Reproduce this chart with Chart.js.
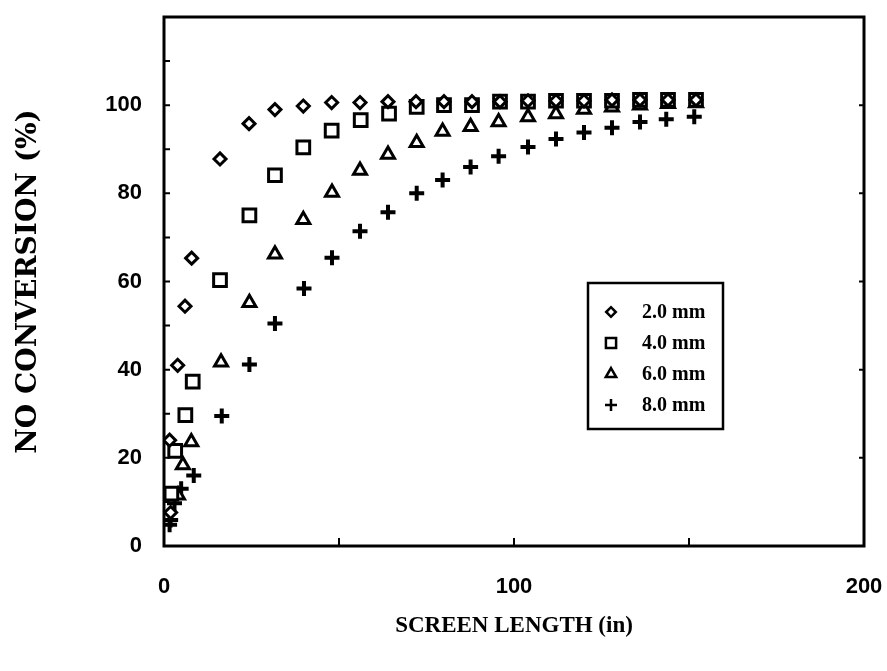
<!DOCTYPE html>
<html>
<head>
<meta charset="utf-8">
<script src="https://cdn.jsdelivr.net/npm/chart.js@4.4.1/dist/chart.umd.min.js"></script>
<style>
  html, body { margin: 0; padding: 0; background: #fff; }
  #wrap { width: 887px; height: 671px; }
</style>
</head>
<body>
<div id="wrap"><canvas id="myChart" width="887" height="671"></canvas></div>
<script>
// values (x = screen length in inches, y = NO conversion %)
var seriesNames = ['2.0 mm', '4.0 mm', '6.0 mm', '8.0 mm'];

var x2mm = [1.9, 1.6, 3.9, 6, 7.9, 16, 24.3, 31.7, 39.8, 47.9, 56, 64, 72, 80, 88, 96, 104, 112, 120, 128, 136, 144, 152];
var y2mm = [7.6, 24, 41, 54.4, 65.3, 87.8, 95.8, 99, 99.8, 100.6, 100.6, 100.8, 100.8, 100.8, 100.8, 100.8, 101, 101, 101, 101.2, 101.2, 101.2, 101.2];

var x4mm = [2.1, 3.2, 6.1, 8.2, 16, 24.4, 31.7, 39.8, 47.9, 56.2, 64.3, 72.2, 80, 88, 96, 104, 112, 120, 128, 136, 144, 152];
var y4mm = [11.9, 21.6, 29.7, 37.3, 60.3, 75, 84.1, 90.4, 94.2, 96.6, 98.1, 99.6, 100, 100, 100.8, 100.8, 101, 101, 101, 101.2, 101.2, 101.2];

var x6mm = [4, 5.4, 7.8, 16.3, 24.4, 31.7, 39.8, 48, 56, 64, 72.2, 79.6, 87.6, 95.6, 104, 112, 120, 128, 136, 144, 152];
var y6mm = [11.5, 18.4, 23.6, 41.7, 55.2, 66.2, 74, 80.2, 85.2, 88.8, 91.5, 94, 95.1, 96.2, 97.3, 98, 99, 99.5, 100, 100.3, 100.5];

var x8mm = [1.6, 1.9, 3, 4.9, 8.5, 16.5, 24.4, 31.7, 40, 48, 56, 64, 72.2, 79.6, 87.6, 95.6, 104, 112, 120, 128, 136, 143.5, 151.5];
var y8mm = [4.8, 5.9, 9.7, 13, 16, 29.5, 41.2, 50.5, 58.4, 65.4, 71.4, 75.7, 80, 83, 86, 88.4, 90.5, 92.3, 93.8, 94.9, 96.2, 96.8, 97.4];

var xTicks = [0, 100, 200];
var yTicks = [0, 20, 40, 60, 80, 100];

function toPoints(xs, ys) {
    return xs.map(function (x, i) { return { x: x, y: ys[i] }; });
}

var markerStyles = [
    { pointStyle: 'rectRot', radius: 6, borderWidth: 3 },
    { pointStyle: 'rect', radius: 9, borderWidth: 3 },
    { pointStyle: 'triangle', radius: 7.5, borderWidth: 3 },
    { pointStyle: 'cross', radius: 7.5, borderWidth: 4 }
];
var allX = [x2mm, x4mm, x6mm, x8mm];
var allY = [y2mm, y4mm, y6mm, y8mm];

var datasets = seriesNames.map(function (name, i) {
    return {
        label: name,
        data: toPoints(allX[i], allY[i]),
        pointStyle: markerStyles[i].pointStyle,
        pointRadius: markerStyles[i].radius,
        pointHoverRadius: markerStyles[i].radius,
        pointBorderWidth: markerStyles[i].borderWidth,
        pointBorderColor: '#000',
        pointBackgroundColor: '#fff',
        showLine: false
    };
});

// box around the plot, inward tick marks and the legend box
var framePlugin = {
    id: 'frame',
    afterDatasetsDraw: function (chart) {
        var ctx = chart.ctx;
        var a = chart.chartArea;
        var xs = chart.scales.x, ys = chart.scales.y;
        ctx.save();
        ctx.strokeStyle = '#000';
        ctx.lineWidth = 3;
        ctx.strokeRect(a.left, a.top, a.right - a.left, a.bottom - a.top);

        ctx.lineWidth = 2;
        ctx.beginPath();
        for (var v = 10; v < 120; v += 10) {
            var py = ys.getPixelForValue(v);
            ctx.moveTo(a.left, py); ctx.lineTo(a.left + 6, py);
            if (v % 20 === 0) { ctx.moveTo(a.right, py); ctx.lineTo(a.right - 5, py); }
        }
        [50, 100, 150].forEach(function (t) {
            var px = xs.getPixelForValue(t);
            ctx.moveTo(px, a.bottom); ctx.lineTo(px, a.bottom - 8);
        });
        ctx.stroke();

        // legend
        var bx = a.left + 424, by = a.top + 266, bw = 135, bh = 146;
        ctx.lineWidth = 2.5;
        ctx.strokeRect(bx, by, bw, bh);
        ctx.textBaseline = 'middle';
        chart.data.datasets.forEach(function (ds, i) {
            var ry = by + 29 + i * 31;
            ctx.fillStyle = '#fff';
            ctx.strokeStyle = '#000';
            Chart.helpers.drawPoint(ctx, {
                pointStyle: ds.pointStyle,
                radius: ds.pointRadius * 0.8,
                borderWidth: ds.pointBorderWidth,
                rotation: 0
            }, bx + 23, ry);
            ctx.fillStyle = '#000';
            ctx.font = 'bold 20px "Liberation Serif", serif';
            ctx.fillText(ds.label, bx + 54, ry + 1);
        });
        ctx.restore();
    }
};

var ctx = document.getElementById('myChart');

var options = {
    responsive: false,
    animation: false,
    layout: { padding: { top: 17, right: 23, left: 0, bottom: 0 } },
    plugins: { legend: { display: false }, tooltip: { enabled: false } },
    elements: { point: { borderColor: '#000', backgroundColor: '#fff' } },
    scales: {
        x: {
            type: 'linear',
            min: 0,
            max: 200,
            afterFit: function (s) { s.height = 125; s.paddingLeft = 0; s.paddingRight = 0; },
            afterBuildTicks: function (s) { s.ticks = xTicks.map(function (v) { return { value: v }; }); },
            grid: { display: false },
            border: { display: false },
            ticks: {
                color: '#000',
                padding: 20,
                maxRotation: 0,
                font: { family: '"Liberation Sans", Arial, sans-serif', weight: 'bold', size: 22 }
            },
            title: {
                display: true,
                text: 'SCREEN LENGTH (in)',
                color: '#000',
                padding: { top: 0, bottom: 31 },
                font: { family: '"Liberation Serif", serif', weight: 'bold', size: 23 }
            }
        },
        y: {
            type: 'linear',
            min: 0,
            max: 120,
            afterFit: function (s) { s.width = 164; s.paddingTop = 0; s.paddingBottom = 0; },
            afterBuildTicks: function (s) { s.ticks = yTicks.map(function (v) { return { value: v }; }); },
            grid: { display: false },
            border: { display: false },
            ticks: {
                color: '#000',
                padding: 14,
                font: { family: '"Liberation Sans", Arial, sans-serif', weight: 'bold', size: 22 }
            },
            title: {
                display: true,
                text: 'NO CONVERSION (%)',
                color: '#000',
                padding: { top: 12, bottom: 0 },
                font: { family: '"DejaVu Serif", serif', weight: 'bold', size: 28 }
            }
        }
    }
};

var myChart = new Chart(ctx, {
    type: 'scatter',
    data: { datasets: datasets },
    options: options,
    plugins: [framePlugin]
});
</script>
</body>
</html>
